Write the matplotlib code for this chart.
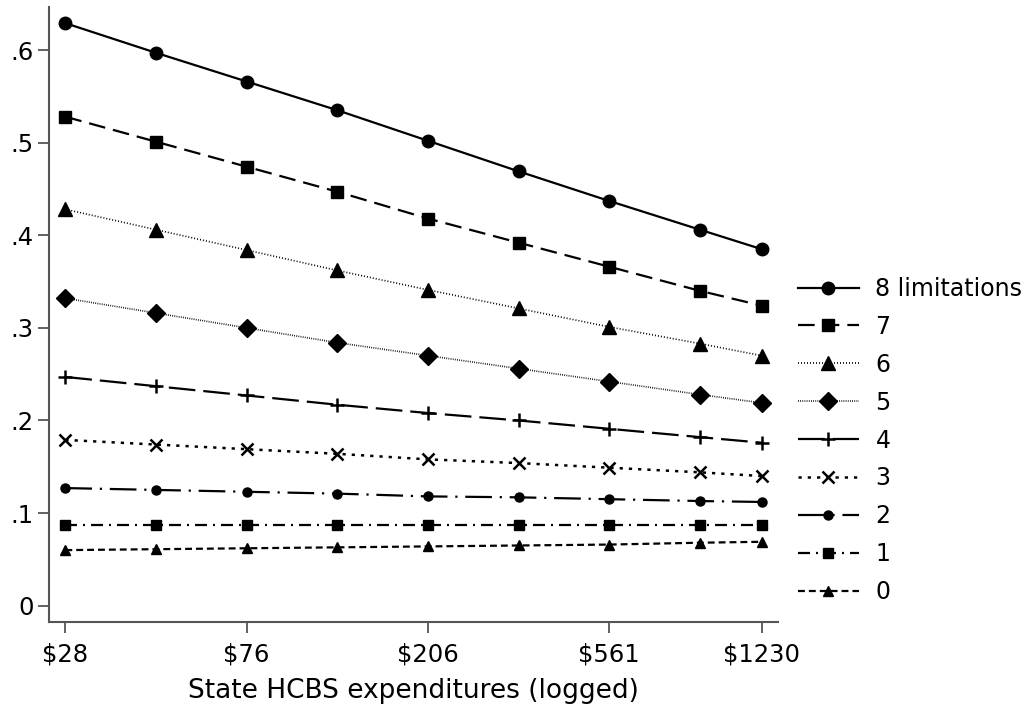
import matplotlib
matplotlib.use('Agg')
import matplotlib.pyplot as plt
import numpy as np

# x values are logged state HCBS expenditures
log_spend = [3.33, 3.83, 4.33, 4.83, 5.33, 5.83, 6.33, 6.83, 7.17]
tick_pos = [3.33, 4.33, 5.33, 6.33, 7.17]
tick_labels = ['$28', '$76', '$206', '$561', '$1230']

lim8 = [0.629, 0.597, 0.566, 0.535, 0.502, 0.469, 0.437, 0.406, 0.385]
lim7 = [0.528, 0.501, 0.474, 0.447, 0.418, 0.392, 0.366, 0.340, 0.324]
lim6 = [0.428, 0.406, 0.384, 0.362, 0.341, 0.321, 0.301, 0.283, 0.270]
lim5 = [0.332, 0.316, 0.300, 0.284, 0.270, 0.256, 0.242, 0.228, 0.219]
lim4 = [0.247, 0.237, 0.227, 0.217, 0.208, 0.200, 0.191, 0.182, 0.176]
lim3 = [0.179, 0.174, 0.169, 0.164, 0.158, 0.154, 0.149, 0.144, 0.140]
lim2 = [0.127, 0.125, 0.123, 0.121, 0.118, 0.117, 0.115, 0.113, 0.112]
lim1 = [0.087, 0.087, 0.087, 0.087, 0.087, 0.087, 0.087, 0.087, 0.087]
lim0 = [0.060, 0.061, 0.062, 0.063, 0.064, 0.065, 0.066, 0.068, 0.069]

series_labels = ['8 limitations', '7', '6', '5', '4', '3', '2', '1', '0']

# (marker, markersize, linestyle, linewidth)
styles = [
    ('o', 9, '-', 1.6),
    ('s', 9, (0, (7.5, 3.6)), 1.6),
    ('^', 10, (0, (0.6, 1.2)), 1.2),
    ('D', 9.5, (0, (0.5, 0.8)), 1.2),
    ('+', 10, (0, (12, 3.6)), 1.6),
    ('x', 8, (0, (1.3, 2.4)), 1.8),
    ('o', 6.5, (0, (12, 3.5, 1, 3.5)), 1.6),
    ('s', 6.5, (0, (5.4, 2.7, 0.9, 2.7)), 1.6),
    ('^', 7, (0, (3.1, 1.8)), 1.6),
]

fig = plt.figure(figsize=(10.28, 7.11), dpi=100)
ax = fig.add_axes([0.0477, 0.1252, 0.709, 0.865])

all_series = [lim8, lim7, lim6, lim5, lim4, lim3, lim2, lim1, lim0]
for vals, lab, (mk, ms, ls, lw) in zip(all_series, series_labels, styles):
    ax.plot(log_spend, vals, color='black', marker=mk, markersize=ms,
            linestyle=ls, linewidth=lw, markeredgewidth=1.8 if mk in '+x' else 1.0,
            label=lab)

ax.set_xlim(3.24, 7.26)
ax.set_ylim(-0.0176, 0.6465)
ax.set_xticks(tick_pos)
ax.set_xticklabels(tick_labels)
ax.set_yticks([0, 0.1, 0.2, 0.3, 0.4, 0.5, 0.6])
ax.set_yticklabels(['0', '.1', '.2', '.3', '.4', '.5', '.6'])
ax.set_xlabel('State HCBS expenditures (logged)', fontsize=19, labelpad=8)

for side in ['top', 'right']:
    ax.spines[side].set_visible(False)
for side in ['left', 'bottom']:
    ax.spines[side].set_color('#555555')
    ax.spines[side].set_linewidth(1.5)
ax.tick_params(axis='both', colors='#555555', labelcolor='black', labelsize=17.5,
               length=8, width=1.3, direction='out')
ax.tick_params(axis='x', pad=7)
ax.tick_params(axis='y', pad=3)

ax.legend(loc='center left', bbox_to_anchor=(1.027, 0.295), frameon=False,
          fontsize=17, handlelength=2.6, labelspacing=0.59, handletextpad=0.7,
          borderaxespad=0, borderpad=0)

fig.savefig('out.png', dpi=100)
